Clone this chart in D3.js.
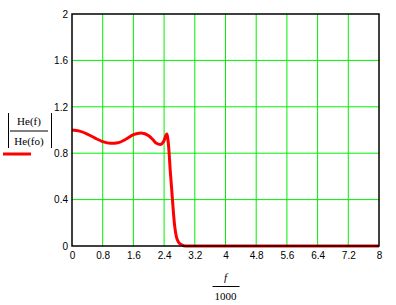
<!DOCTYPE html>
<html>
<head>
<meta charset="utf-8">
<script src="https://cdn.jsdelivr.net/npm/d3@7"></script>
<style>
  body { margin: 0; background: #fff; }
  text { font-family: "Liberation Sans", Arial, sans-serif; }
</style>
</head>
<body>
<svg id="viz" width="396" height="305"></svg>
<script>
// ratio |He(f)/He(fo)| against f/1000
const freq = [0, 0.2, 0.4, 0.6, 0.8, 1.0, 1.2, 1.4, 1.6, 1.8, 2.0, 2.1, 2.2, 2.3, 2.4, 2.47,
              2.52, 2.56, 2.6, 2.64, 2.68, 2.72, 2.78, 2.86, 2.95, 3.1, 8]
const ratio = [1.0, 0.99, 0.965, 0.93, 0.9, 0.885, 0.89, 0.92, 0.96, 0.975, 0.95, 0.92, 0.885, 0.875, 0.91, 0.965,
               0.85, 0.65, 0.48, 0.3, 0.16, 0.08, 0.03, 0.01, 0, 0, 0]
const xTicks = [0, 0.8, 1.6, 2.4, 3.2, 4, 4.8, 5.6, 6.4, 7.2, 8]
const yTicks = [0, 0.4, 0.8, 1.2, 1.6, 2]

const MARGIN = {top: 14, bottom: 59, left: 72, right: 17}
const svg = d3.select("svg#viz")
const width = +svg.attr('width')
const height = +svg.attr('height')
const m_width = width - (MARGIN.left + MARGIN.right)
const m_height = height - (MARGIN.top + MARGIN.bottom)
const chart = svg.append('g').attr("transform", `translate(${MARGIN.left}, ${MARGIN.top})`)

const x_scale = d3.scaleLinear().domain([0, 8]).range([0, m_width])
const y_scale = d3.scaleLinear().domain([0, 2]).range([m_height, 0])

// grid
chart.selectAll("line.vgrid").data(xTicks.slice(1, -1))
  .join("line").attr("class", "vgrid")
  .attr("x1", d => x_scale(d)).attr("x2", d => x_scale(d))
  .attr("y1", 0).attr("y2", m_height)
  .attr("stroke", "#00f000").attr("stroke-width", 1)
chart.selectAll("line.hgrid").data(yTicks.slice(1, -1))
  .join("line").attr("class", "hgrid")
  .attr("x1", 0).attr("x2", m_width)
  .attr("y1", d => y_scale(d)).attr("y2", d => y_scale(d))
  .attr("stroke", "#00f000").attr("stroke-width", 1)

// curve
const pts = freq.map((f, i) => [f, ratio[i]])
const line = d3.line()
  .x(d => x_scale(d[0]))
  .y(d => y_scale(d[1]))
  .curve(d3.curveMonotoneX)
chart.append("path").datum(pts)
  .attr("d", line)
  .attr("fill", "none")
  .attr("stroke", "#ff0000")
  .attr("stroke-width", 3)
  .attr("stroke-linejoin", "round")

// frame
chart.append("rect")
  .attr("x", 0).attr("y", 0)
  .attr("width", m_width).attr("height", m_height)
  .attr("fill", "none").attr("stroke", "#000").attr("stroke-width", 1.5)

// axes
const x_axis = d3.axisBottom(x_scale).tickValues(xTicks).tickSize(0).tickPadding(6)
  .tickFormat(d => d3.format("")(d))
const y_axis = d3.axisLeft(y_scale).tickValues(yTicks).tickSize(0).tickPadding(4)
  .tickFormat(d => d3.format("")(d))
const gx = chart.append('g').attr('transform', `translate(0,${m_height})`).call(x_axis)
const gy = chart.append('g').call(y_axis)
gx.select(".domain").remove()
gy.select(".domain").remove()
svg.selectAll(".tick text").attr("font-size", 10).attr("fill", "#000")
  .style("font-family", '"Liberation Sans", Arial, sans-serif')

// y label: |He(f) / He(fo)|
const yl = svg.append("g")
yl.append("text").attr("x", 29).attr("y", 125).attr("text-anchor", "middle")
  .attr("font-size", 11).style("font-family", '"Liberation Serif", serif').text("He(f)")
yl.append("line").attr("x1", 10).attr("x2", 48).attr("y1", 131).attr("y2", 131)
  .attr("stroke", "#000").attr("stroke-width", 1)
yl.append("text").attr("x", 29).attr("y", 145).attr("text-anchor", "middle")
  .attr("font-size", 11).style("font-family", '"Liberation Serif", serif').text("He(fo)")
yl.selectAll("line.bar").data([8.5, 51.5]).join("line").attr("class", "bar")
  .attr("x1", d => d).attr("x2", d => d).attr("y1", 113).attr("y2", 148)
  .attr("stroke", "#000").attr("stroke-width", 1)
yl.append("line").attr("x1", 3).attr("x2", 31).attr("y1", 154).attr("y2", 154)
  .attr("stroke", "#ff0000").attr("stroke-width", 3)

// x label: f / 1000
const xl = svg.append("g")
const cx = MARGIN.left + m_width / 2
xl.append("text").attr("x", cx).attr("y", 281).attr("text-anchor", "middle")
  .attr("font-size", 11).attr("font-style", "italic")
  .style("font-family", '"Liberation Serif", serif').text("f")
xl.append("line").attr("x1", cx - 13).attr("x2", cx + 14).attr("y1", 286.5).attr("y2", 286.5)
  .attr("stroke", "#000").attr("stroke-width", 1)
xl.append("text").attr("x", cx).attr("y", 300).attr("text-anchor", "middle")
  .attr("font-size", 11).style("font-family", '"Liberation Serif", serif').text("1000")
</script>
</body>
</html>
